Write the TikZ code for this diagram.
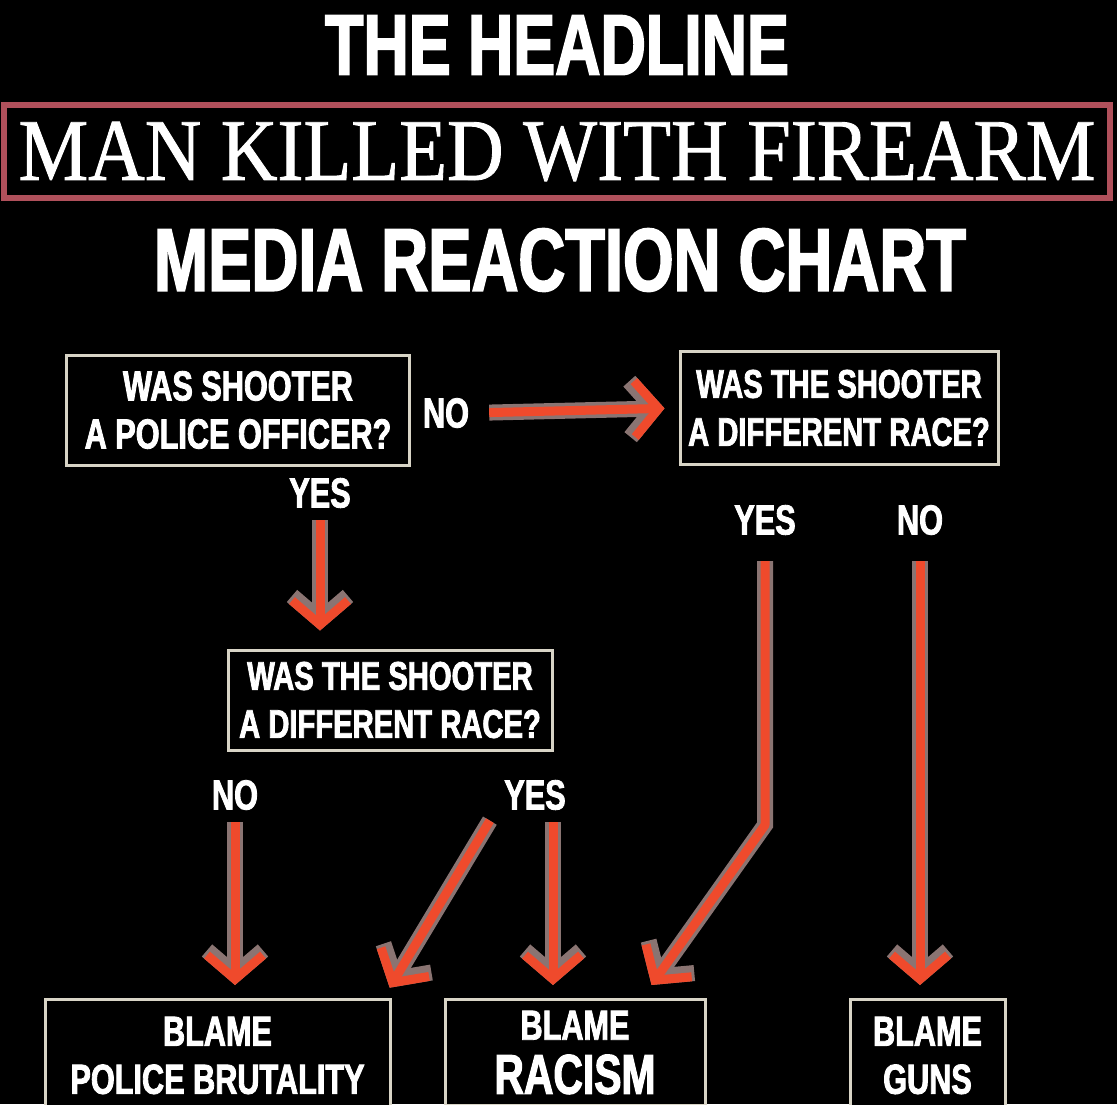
\documentclass[tikz,border=0pt]{standalone}
\usepackage{fontspec}
\setmainfont{Liberation Sans}
\newfontfamily\narrowfont[FakeStretch=0.73, BoldFeatures={FakeBold=2}]{Liberation Sans}
\newfontfamily\serifhead[FakeStretch=0.89, FakeBold=1]{Liberation Serif}
\usetikzlibrary{arrows.meta}
\definecolor{arrowred}{HTML}{EF4A2C}
\definecolor{arrowglow}{HTML}{8A7472}
\definecolor{boxline}{HTML}{D8D4C6}
\definecolor{headred}{HTML}{B0505B}
\tikzset{
    question/.style={draw=boxline, line width=3pt, fill=black, text=white, align=center,
        inner sep=0pt, font=\narrowfont\bfseries\fontsize{42}{48}\selectfont},
    racebox/.style={question, font=\narrowfont\bfseries\fontsize{40}{48}\selectfont},
    answer/.style={text=white, inner sep=2pt, font=\narrowfont\bfseries\fontsize{42}{48}\selectfont},
    blamebox/.style={question, anchor=north, minimum height=112pt},
    title/.style={text=white, inner sep=0pt, font=\narrowfont\bfseries\fontsize{86}{90}\selectfont},
    flow/.style={draw=arrowred, line width=9pt, -{Straight Barb[length=24pt,width=56pt]},
        preaction={draw=arrowglow, line width=16pt, -{Straight Barb[length=24pt,width=56pt]}}}
}

\begin{document}
\begin{tikzpicture}[x=1pt,y=-1pt]
    \useasboundingbox (0,0) rectangle (1117,1104);
    \clip (0,0) rectangle (1117,1104);
    \fill[black] (0,0) rectangle (1117,1104);

    \node[title] (head) at (557,45) {THE HEADLINE};
    \node[draw=headred, line width=6pt, minimum width=1106pt, minimum height=93pt, inner sep=0pt,
        text=white, font=\serifhead\fontsize{88}{90}\selectfont] (man) at (557,151.5) {MAN KILLED WITH FIREARM};
    \node[title, font=\narrowfont\bfseries\fontsize{89}{96}\selectfont] (chart) at (560,260) {MEDIA REACTION CHART};

    \node[question, minimum width=343pt, minimum height=110pt] (q1) at (238,410) {WAS SHOOTER\\A POLICE OFFICER?};
    \node[racebox, minimum width=318pt, minimum height=113pt] (q2) at (839,408) {WAS THE SHOOTER\\A DIFFERENT RACE?};
    \node[racebox, minimum width=324pt, minimum height=100pt] (q3) at (390,700) {WAS THE SHOOTER\\A DIFFERENT RACE?};

    \node[answer] (no1) at (446,413) {NO};
    \node[answer] (yes1) at (320,493) {YES};
    \node[answer] (yes2) at (765,520) {YES};
    \node[answer] (no2) at (920,520) {NO};
    \node[answer] (no3) at (235,795) {NO};
    \node[answer] (yes3) at (535,795) {YES};

    \node[blamebox, minimum width=345pt] (b1) at (217.5,998) {BLAME\\POLICE BRUTALITY};
    \node[blamebox, minimum width=260pt, minimum height=106pt] (b2) at (575,998) {BLAME\\[6pt]{\fontsize{56}{56}\selectfont RACISM}};
    \node[blamebox, minimum width=155pt] (b3) at (927.5,998) {BLAME\\GUNS};

    \coordinate (kink) at (yes2.south |- 0,825);
    \coordinate (y3r) at ([xshift=18pt]yes3.south);
    \coordinate (y3l) at ([xshift=-40pt]yes3.south);

    \draw[flow, shorten <=18pt, shorten >=14pt] (no1.east) -- (q2.west);
    \draw[flow, shorten <=10pt, shorten >=18pt] (yes1.south) -- (yes1.south |- q3.north);
    \draw[flow, shorten <=24pt, line join=round] (yes2.south) -- (kink) -- ([xshift=-55pt,yshift=13pt]b2.north east);
    \draw[flow, shorten <=24pt, shorten >=13pt] (no2.south) -- (no2.south |- b3.north);
    \draw[flow, shorten <=10pt, shorten >=13pt] (no3.south) -- (no3.south |- b1.north);
    \draw[flow, shorten <=10pt, shorten >=12pt] (y3l) -- ([xshift=-8pt]b1.north east);
    \draw[flow, shorten <=10pt, shorten >=13pt] (y3r) -- (y3r |- b2.north);
\end{tikzpicture}
\end{document}
